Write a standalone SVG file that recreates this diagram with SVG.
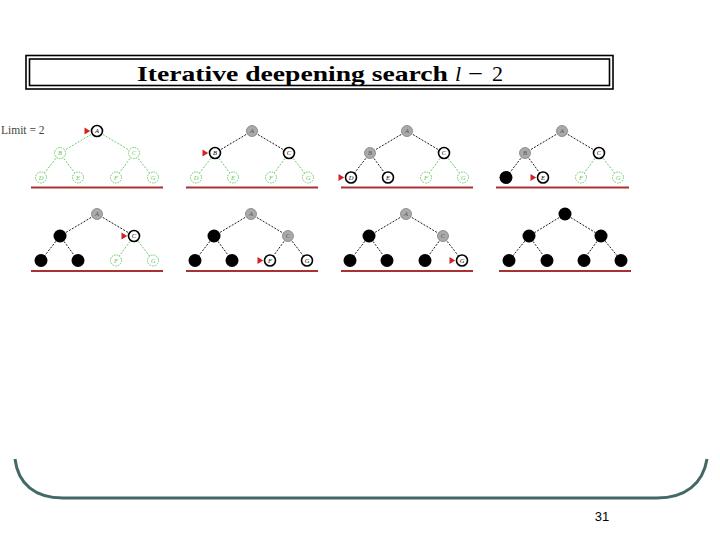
<svg xmlns="http://www.w3.org/2000/svg" xmlns:xlink="http://www.w3.org/1999/xlink" width="720" height="540" viewBox="0 0 720 540">
<style>
.eb{stroke:#000;stroke-width:0.9;stroke-dasharray:2 1.4;fill:none}
.eg{stroke:#5fc45a;stroke-width:0.9;stroke-dasharray:2 1.4;fill:none}
.ng circle{fill:#fff;stroke:#5fc45a;stroke-width:0.9;stroke-dasharray:1.6 1}
.ng text{fill:#5fc45a}
.nw circle{fill:#fff;stroke:#000;stroke-width:1.6}
.nw text{fill:#000}
.ny circle{fill:#aaa;stroke:#808080;stroke-width:0.8}
.ny text{fill:#555}
.nb circle{fill:#000}
.lbl{font-family:"Liberation Serif",serif;font-style:italic;font-size:6.5px;text-anchor:middle}
.base{stroke:#a83232;stroke-width:2.2}
.tt{font-family:"Liberation Serif",serif;font-size:22px}
</style>
<defs>
<polygon id="ptr" points="-12.5,-3.4 -6.8,0 -12.5,3.4" fill="#d42020"/>
</defs>
<rect width="720" height="540" fill="#fff"/>
<g id="title">
<rect x="26" y="55.5" width="587" height="33.5" fill="none" stroke="#000" stroke-width="1.6"/>
<rect x="29.5" y="59" width="580" height="26.5" fill="none" stroke="#000" stroke-width="1.6"/>
<text class="tt" x="137" y="81" font-weight="bold" textLength="311" lengthAdjust="spacingAndGlyphs">Iterative deepening search</text>
<text class="tt" x="455" y="81" font-style="italic">l</text>
<text class="tt" x="468" y="81" textLength="15" lengthAdjust="spacingAndGlyphs">−</text>
<text class="tt" x="492" y="81">2</text>
</g>
<text id="limit" x="1" y="133.5" font-family="Liberation Serif,serif" font-size="11.5" fill="#444">Limit = 2</text>
<g id="baselines">
<line class="base" x1="31" y1="187.5" x2="163" y2="187.5"/>
<line class="base" x1="186" y1="187.5" x2="318" y2="187.5"/>
<line class="base" x1="341" y1="187.5" x2="473" y2="187.5"/>
<line class="base" x1="496" y1="187.5" x2="629" y2="187.5"/>
<line class="base" x1="31" y1="271" x2="163" y2="271"/>
<line class="base" x1="186" y1="271" x2="318" y2="271"/>
<line class="base" x1="341" y1="271" x2="473" y2="271"/>
<line class="base" x1="499" y1="271" x2="631" y2="271"/>
</g>
<g id="connectors">
<g transform="translate(97,131)">
<path class="eg" d="M0,0L-37,22M0,0L37,22M-37,22L-56,46.5M-37,22L-19,46.5M37,22L19,46.5M37,22L56,46.5"/>
</g>
<g transform="translate(252,131)">
<path class="eb" d="M0,0L-37,22M0,0L37,22"/>
<path class="eg" d="M-37,22L-56,46.5M-37,22L-19,46.5M37,22L19,46.5M37,22L56,46.5"/>
</g>
<g transform="translate(407,131)">
<path class="eb" d="M0,0L-37,22M0,0L37,22M-37,22L-56,46.5M-37,22L-19,46.5"/>
<path class="eg" d="M37,22L19,46.5M37,22L56,46.5"/>
</g>
<g transform="translate(562,131)">
<path class="eb" d="M0,0L-37,22M0,0L37,22M-37,22L-56,46.5M-37,22L-19,46.5"/>
<path class="eg" d="M37,22L19,46.5M37,22L56,46.5"/>
</g>
<g transform="translate(97,214)">
<path class="eb" d="M0,0L-37,22M0,0L37,22M-37,22L-56,46.5M-37,22L-19,46.5"/>
<path class="eg" d="M37,22L19,46.5M37,22L56,46.5"/>
</g>
<g transform="translate(251,214)">
<path class="eb" d="M0,0L-37,22M0,0L37,22M-37,22L-56,46.5M-37,22L-19,46.5M37,22L19,46.5M37,22L56,46.5"/>
</g>
<g transform="translate(406,214)">
<path class="eb" d="M0,0L-37,22M0,0L37,22M-37,22L-56,46.5M-37,22L-19,46.5M37,22L19,46.5M37,22L56,46.5"/>
</g>
<g transform="translate(565,214)">
<path class="eb" d="M0,0L-36,22M0,0L36,22M-36,22L-56,46.5M-36,22L-18,46.5M36,22L18,46.5M36,22L56,46.5"/>
</g>
</g>
<!-- Tree 1 -->
<g id="t1-A" class="nw" transform="translate(97,131)"><circle r="5.5"/><text class="lbl" y="2.3">A</text></g>
<g id="t1-B" class="ng" transform="translate(60,153)"><circle r="5.5"/><text class="lbl" y="2.3">B</text></g>
<g id="t1-C" class="ng" transform="translate(134,153)"><circle r="5.5"/><text class="lbl" y="2.3">C</text></g>
<g id="t1-D" class="ng" transform="translate(41,177.5)"><circle r="5.5"/><text class="lbl" y="2.3">D</text></g>
<g id="t1-E" class="ng" transform="translate(78,177.5)"><circle r="5.5"/><text class="lbl" y="2.3">E</text></g>
<g id="t1-F" class="ng" transform="translate(116,177.5)"><circle r="5.5"/><text class="lbl" y="2.3">F</text></g>
<g id="t1-G" class="ng" transform="translate(153,177.5)"><circle r="5.5"/><text class="lbl" y="2.3">G</text></g>
<!-- Tree 2 -->
<g id="t2-A" class="ny" transform="translate(252,131)"><circle r="5.5"/><text class="lbl" y="2.3">A</text></g>
<g id="t2-B" class="nw" transform="translate(215,153)"><circle r="5.5"/><text class="lbl" y="2.3">B</text></g>
<g id="t2-C" class="nw" transform="translate(289,153)"><circle r="5.5"/><text class="lbl" y="2.3">C</text></g>
<g id="t2-D" class="ng" transform="translate(196,177.5)"><circle r="5.5"/><text class="lbl" y="2.3">D</text></g>
<g id="t2-E" class="ng" transform="translate(233,177.5)"><circle r="5.5"/><text class="lbl" y="2.3">E</text></g>
<g id="t2-F" class="ng" transform="translate(271,177.5)"><circle r="5.5"/><text class="lbl" y="2.3">F</text></g>
<g id="t2-G" class="ng" transform="translate(308,177.5)"><circle r="5.5"/><text class="lbl" y="2.3">G</text></g>
<!-- Tree 3 -->
<g id="t3-A" class="ny" transform="translate(407,131)"><circle r="5.5"/><text class="lbl" y="2.3">A</text></g>
<g id="t3-B" class="ny" transform="translate(370,153)"><circle r="5.5"/><text class="lbl" y="2.3">B</text></g>
<g id="t3-C" class="nw" transform="translate(444,153)"><circle r="5.5"/><text class="lbl" y="2.3">C</text></g>
<g id="t3-D" class="nw" transform="translate(351,177.5)"><circle r="5.5"/><text class="lbl" y="2.3">D</text></g>
<g id="t3-E" class="nw" transform="translate(388,177.5)"><circle r="5.5"/><text class="lbl" y="2.3">E</text></g>
<g id="t3-F" class="ng" transform="translate(426,177.5)"><circle r="5.5"/><text class="lbl" y="2.3">F</text></g>
<g id="t3-G" class="ng" transform="translate(463,177.5)"><circle r="5.5"/><text class="lbl" y="2.3">G</text></g>
<!-- Tree 4 -->
<g id="t4-A" class="ny" transform="translate(562,131)"><circle r="5.5"/><text class="lbl" y="2.3">A</text></g>
<g id="t4-B" class="ny" transform="translate(525,153)"><circle r="5.5"/><text class="lbl" y="2.3">B</text></g>
<g id="t4-C" class="nw" transform="translate(599,153)"><circle r="5.5"/><text class="lbl" y="2.3">C</text></g>
<g id="t4-D" class="nb" transform="translate(506,177.5)"><circle r="6.5"/></g>
<g id="t4-E" class="nw" transform="translate(543,177.5)"><circle r="5.5"/><text class="lbl" y="2.3">E</text></g>
<g id="t4-F" class="ng" transform="translate(581,177.5)"><circle r="5.5"/><text class="lbl" y="2.3">F</text></g>
<g id="t4-G" class="ng" transform="translate(618,177.5)"><circle r="5.5"/><text class="lbl" y="2.3">G</text></g>
<!-- Tree 5 -->
<g id="t5-A" class="ny" transform="translate(97,214)"><circle r="5.5"/><text class="lbl" y="2.3">A</text></g>
<g id="t5-B" class="nb" transform="translate(60,236)"><circle r="6.5"/></g>
<g id="t5-C" class="nw" transform="translate(134,236)"><circle r="5.5"/><text class="lbl" y="2.3">C</text></g>
<g id="t5-D" class="nb" transform="translate(41,260.5)"><circle r="6.5"/></g>
<g id="t5-E" class="nb" transform="translate(78,260.5)"><circle r="6.5"/></g>
<g id="t5-F" class="ng" transform="translate(116,260.5)"><circle r="5.5"/><text class="lbl" y="2.3">F</text></g>
<g id="t5-G" class="ng" transform="translate(153,260.5)"><circle r="5.5"/><text class="lbl" y="2.3">G</text></g>
<!-- Tree 6 -->
<g id="t6-A" class="ny" transform="translate(251,214)"><circle r="5.5"/><text class="lbl" y="2.3">A</text></g>
<g id="t6-B" class="nb" transform="translate(214,236)"><circle r="6.5"/></g>
<g id="t6-C" class="ny" transform="translate(288,236)"><circle r="5.5"/><text class="lbl" y="2.3">C</text></g>
<g id="t6-D" class="nb" transform="translate(195,260.5)"><circle r="6.5"/></g>
<g id="t6-E" class="nb" transform="translate(232,260.5)"><circle r="6.5"/></g>
<g id="t6-F" class="nw" transform="translate(270,260.5)"><circle r="5.5"/><text class="lbl" y="2.3">F</text></g>
<g id="t6-G" class="nw" transform="translate(307,260.5)"><circle r="5.5"/><text class="lbl" y="2.3">G</text></g>
<!-- Tree 7 -->
<g id="t7-A" class="ny" transform="translate(406,214)"><circle r="5.5"/><text class="lbl" y="2.3">A</text></g>
<g id="t7-B" class="nb" transform="translate(369,236)"><circle r="6.5"/></g>
<g id="t7-C" class="ny" transform="translate(443,236)"><circle r="5.5"/><text class="lbl" y="2.3">C</text></g>
<g id="t7-D" class="nb" transform="translate(350,260.5)"><circle r="6.5"/></g>
<g id="t7-E" class="nb" transform="translate(387,260.5)"><circle r="6.5"/></g>
<g id="t7-F" class="nb" transform="translate(425,260.5)"><circle r="6.5"/></g>
<g id="t7-G" class="nw" transform="translate(462,260.5)"><circle r="5.5"/><text class="lbl" y="2.3">G</text></g>
<!-- Tree 8 -->
<g id="t8-A" class="nb" transform="translate(565,214)"><circle r="6.5"/></g>
<g id="t8-B" class="nb" transform="translate(529,236)"><circle r="6.5"/></g>
<g id="t8-C" class="nb" transform="translate(601,236)"><circle r="6.5"/></g>
<g id="t8-D" class="nb" transform="translate(509,260.5)"><circle r="6.5"/></g>
<g id="t8-E" class="nb" transform="translate(547,260.5)"><circle r="6.5"/></g>
<g id="t8-F" class="nb" transform="translate(584,260.5)"><circle r="6.5"/></g>
<g id="t8-G" class="nb" transform="translate(621,260.5)"><circle r="6.5"/></g>
<g id="pointers">
<use xlink:href="#ptr" x="97" y="131"/>
<use xlink:href="#ptr" x="215" y="153"/>
<use xlink:href="#ptr" x="351" y="177.5"/>
<use xlink:href="#ptr" x="543" y="177.5"/>
<use xlink:href="#ptr" x="134" y="236"/>
<use xlink:href="#ptr" x="270" y="260.5"/>
<use xlink:href="#ptr" x="462" y="260.5"/>
</g>
<path id="bracket" d="M15,459 C18,484 35,498 63,498 L657,498 C685,498 703,484 707,459" fill="none" stroke="#436868" stroke-width="3"/>
<text id="page" x="602" y="521" font-family="Liberation Sans,Arial,sans-serif" font-size="13" text-anchor="middle">31</text>
</svg>
